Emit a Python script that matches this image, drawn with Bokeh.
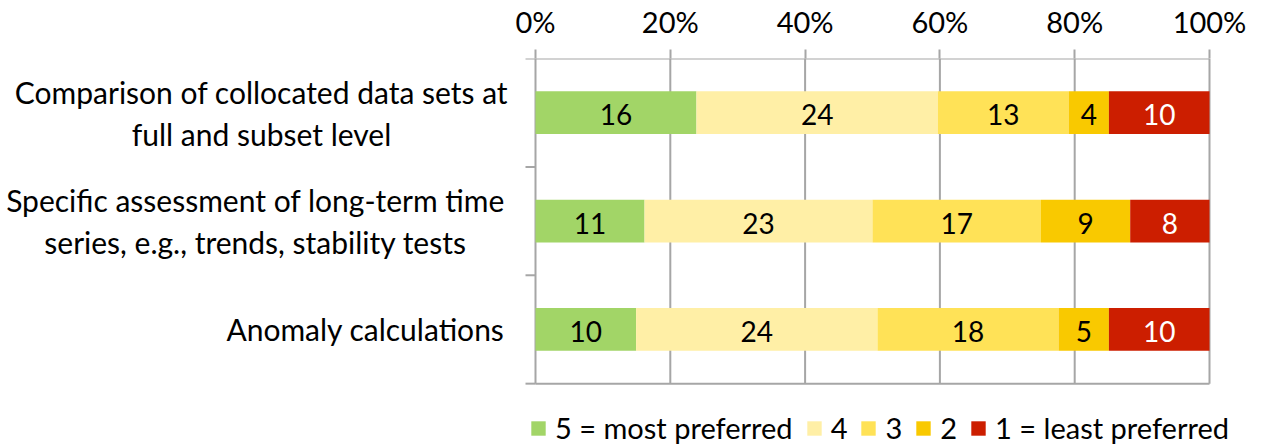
from bokeh.plotting import figure
from bokeh.models import (Range1d, FixedTicker, LinearAxis, PrintfTickFormatter,
                          Legend, LegendItem, ColumnDataSource)
from bokeh.core.properties import value
from bokeh.embed import file_html
from bokeh.resources import INLINE

# Survey answers per approach (counts of respondents per preference level)
categories = [
    "Comparison of collocated data sets at\nfull and subset level",
    "Specific assessment of long-term time\nseries, e.g., trends, stability tests",
    "Anomaly calculations",
]
levels = ["5 = most preferred", "4", "3", "2", "1 = least preferred"]
pref5 = [16, 11, 10]
pref4 = [24, 23, 24]
pref3 = [13, 17, 18]
pref2 = [4, 9, 5]
pref1 = [10, 8, 10]
tick_values = [0, 20, 40, 60, 80, 100]

colors = ["#A2D567", "#FFEFA6", "#FFE257", "#F9C900", "#CC1E00"]
label_colors = ["black", "black", "black", "black", "white"]
FONT = "Lato"
GREY = "#A6A6A6"

# Page geometry (pixels): the plotting area spans the whole page below the
# percentage axis, the 0-100 % box sits inside it.
W, H = 1262, 445
TOP = 57                      # height of the percentage-axis strip
BOX_L, BOX_R, BOX_B = 535, 1209, 383
TICK = 10                     # length of the category boundary ticks

series = [pref5, pref4, pref3, pref2, pref1]
n = len(categories)
totals = [sum(s[i] for s in series) for i in range(n)]
ys = [n - i - 0.5 for i in range(n)]

px_x = 100 / (BOX_R - BOX_L)          # data units per pixel, horizontally
px_y = n / (BOX_B - TOP)              # data units per pixel, vertically
def xd(px):
    return (px - BOX_L) * px_x

p = figure(width=W, height=H, output_backend="svg", toolbar_location=None,
           x_range=Range1d(xd(0), xd(W)), y_range=Range1d(-(H - BOX_B) * px_y, n),
           x_axis_location=None, y_axis_location=None,
           min_border_left=0, min_border_right=0,
           min_border_top=TOP, min_border_bottom=0)
p.background_fill_color = "white"
p.border_fill_color = "white"
p.outline_line_color = None
p.grid.grid_line_color = None

# Percentage axis on top (its line is drawn with the box below)
top = LinearAxis(ticker=FixedTicker(ticks=tick_values),
                 formatter=PrintfTickFormatter(format="%d%%"))
top.axis_line_color = None
top.major_tick_line_color = GREY
top.major_tick_line_width = 2
top.major_tick_out = 9
top.major_tick_in = 0
top.minor_tick_line_color = None
top.major_label_text_font = FONT
top.major_label_text_font_size = "29px"
top.major_label_text_color = "black"
top.major_label_standoff = 11
p.add_layout(top, "above")

# Vertical grid lines at the percentage ticks, spanning the category bands
p.segment(x0=tick_values, y0=[0] * len(tick_values), x1=tick_values,
          y1=[n] * len(tick_values), line_color=GREY, line_width=2)
# Category boundaries: short ticks left of the box, box top and bottom lines
bounds = list(range(n + 1))
p.segment(x0=[-TICK * px_x] * len(bounds), y0=bounds, x1=[0] * len(bounds),
          y1=bounds, line_color=GREY, line_width=2)
p.segment(x0=[0, 0], y0=[0, n], x1=[100, 100], y1=[0, n],
          line_color=GREY, line_width=2)

# Stacked percentage segments with their counts
renderers = []
lefts = [0.0] * n
for k, s in enumerate(series):
    pct = [s[i] / totals[i] * 100 for i in range(n)]
    rights = [lefts[i] + pct[i] for i in range(n)]
    src = ColumnDataSource(dict(y=ys, left=list(lefts), right=rights,
                                mid=[(lefts[i] + rights[i]) / 2 for i in range(n)],
                                txt=[str(v) for v in s]))
    r = p.hbar(y="y", left="left", right="right", height=0.395, source=src,
               fill_color=colors[k], line_color=None)
    renderers.append(r)
    p.text(x="mid", y="y", text="txt", source=src, text_align="center",
           text_baseline="middle", text_font=value(FONT), text_font_size="28px",
           text_color=label_colors[k], y_offset=2)
    lefts = rights

# Category names, centred lines, placed left of the box
label_px = [261, 255, 365]
p.text(x=[xd(v) for v in label_px], y=ys, text=categories, text_align="center",
       text_baseline="middle", text_font=value(FONT), text_font_size="30px",
       text_color="black", text_line_height=1.17)

legend = Legend(items=[LegendItem(label=levels[k], renderers=[renderers[k]])
                       for k in range(len(levels))],
                orientation="horizontal", location=(529, 0),
                glyph_width=18, glyph_height=18, label_standoff=8, spacing=12,
                label_width=10, padding=0, margin=0, border_line_color=None,
                background_fill_alpha=0, label_text_color="black",
                label_text_font=FONT, label_text_font_size="29px")
p.add_layout(legend)

open("out.html", "w").write(file_html(p, INLINE))
